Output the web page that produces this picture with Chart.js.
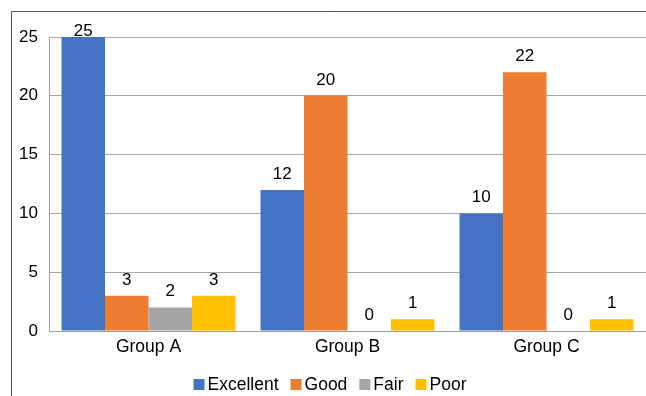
<!DOCTYPE html>
<html>
<head>
<meta charset="utf-8">
<script src="https://cdn.jsdelivr.net/npm/chart.js@4/dist/chart.umd.min.js"></script>
<style>
  html, body { margin: 0; padding: 0; background: #fff; overflow: hidden; }
  #wrap { width: 646px; height: 396px; position: relative; }
</style>
</head>
<body>
<div id="wrap"><canvas id="chart" width="646" height="396"></canvas></div>
<script>
// chart data
const categories = ['Group A', 'Group B', 'Group C'];
const seriesNames = ['Excellent', 'Good', 'Fair', 'Poor'];
const excellent = [25, 12, 10];
const good = [3, 20, 22];
const fair = [2, 0, 0];
const poor = [3, 1, 1];
const yTicks = [0, 5, 10, 15, 20, 25];

const colors = ['#4472C4', '#ED7D31', '#A5A5A5', '#FFC000'];
const FONT = '"Liberation Sans", Arial, sans-serif';

// outer frame (top and left edge) like the original picture
const framePlugin = {
    id: 'frame',
    beforeDraw(chart) {
        const ctx = chart.ctx;
        ctx.save();
        ctx.strokeStyle = '#595959';
        ctx.lineWidth = 1;
        ctx.beginPath();
        ctx.moveTo(11.5, chart.height);
        ctx.lineTo(11.5, 11.5);
        ctx.lineTo(chart.width, 11.5);
        ctx.stroke();
        ctx.restore();
    }
};

// value labels above each bar
const valueLabels = {
    id: 'valueLabels',
    afterDatasetsDraw(chart) {
        const ctx = chart.ctx;
        ctx.save();
        ctx.font = '17px ' + FONT;
        ctx.fillStyle = '#000';
        ctx.textAlign = 'center';
        ctx.textBaseline = 'alphabetic';
        chart.data.datasets.forEach((ds, i) => {
            const meta = chart.getDatasetMeta(i);
            meta.data.forEach((bar, j) => {
                const y = Math.max(bar.y - 11, 36);
                ctx.fillText(String(ds.data[j]), bar.x, y);
            });
        });
        ctx.restore();
    }
};

// legend drawn the way the source lays it out
const customLegend = {
    id: 'customLegend',
    afterDraw(chart) {
        const ctx = chart.ctx;
        ctx.save();
        ctx.font = '17.5px ' + FONT;
        ctx.textBaseline = 'alphabetic';
        const box = 11, gapText = 3, gapItem = 12;
        const widths = seriesNames.map(n => ctx.measureText(n).width);
        let total = widths.reduce((a, b) => a + b, 0) + seriesNames.length * (box + gapText) + (seriesNames.length - 1) * gapItem;
        let x = 330 - total / 2;
        const baseline = 390;
        seriesNames.forEach((name, i) => {
            ctx.fillStyle = colors[i];
            ctx.fillRect(x, 379, box, box);
            x += box + gapText;
            ctx.fillStyle = '#000';
            ctx.fillText(name, x, baseline);
            x += widths[i] + gapItem;
        });
        ctx.restore();
    }
};

const ctx = document.getElementById('chart').getContext('2d');
const chart = new Chart(ctx, {
    type: 'bar',
    data: {
        labels: categories,
        datasets: [
            { label: seriesNames[0], data: excellent, backgroundColor: colors[0] },
            { label: seriesNames[1], data: good, backgroundColor: colors[1] },
            { label: seriesNames[2], data: fair, backgroundColor: colors[2] },
            { label: seriesNames[3], data: poor, backgroundColor: colors[3] }
        ]
    },
    options: {
        responsive: false,
        animation: false,
        devicePixelRatio: 1,
        layout: { padding: { top: 37, right: 0, bottom: 0, left: 0 } },
        datasets: {
            bar: { categoryPercentage: 0.874, barPercentage: 1.0, borderWidth: 0 }
        },
        plugins: {
            legend: { display: false },
            tooltip: { enabled: false }
        },
        scales: {
            x: {
                grid: { display: false, drawTicks: false },
                border: { display: true, color: '#9e9e9e', width: 1 },
                ticks: { color: '#000', font: { family: FONT, size: 17.5 }, padding: 6 },
                afterFit(scale) { scale.height = 65; }
            },
            y: {
                min: 0,
                max: 25,
                afterBuildTicks(scale) { scale.ticks = yTicks.map(v => ({ value: v })); },
                grid: { color: '#a6a6a6', drawTicks: false },
                border: { display: true, color: '#9e9e9e', width: 1 },
                ticks: { color: '#000', font: { family: FONT, size: 17 }, padding: 11 },
                afterFit(scale) { scale.width = 49; }
            }
        }
    },
    plugins: [framePlugin, valueLabels, customLegend]
});
</script>
</body>
</html>
